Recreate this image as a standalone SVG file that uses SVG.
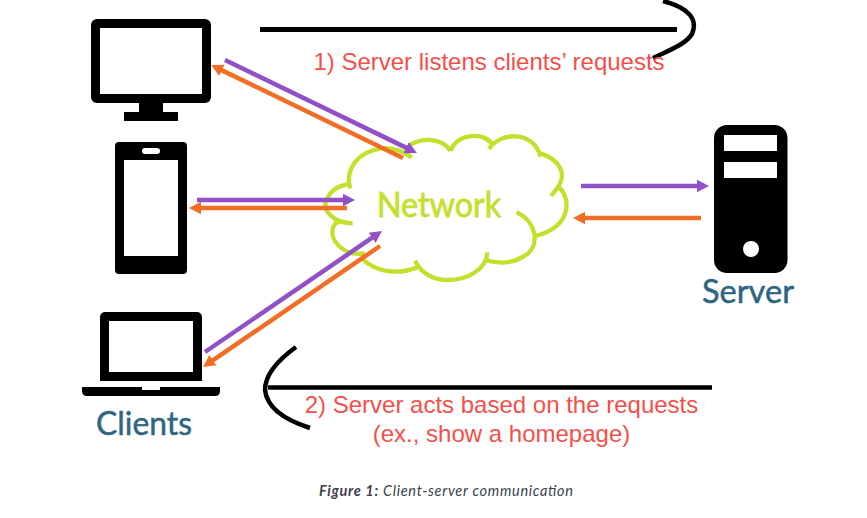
<svg xmlns="http://www.w3.org/2000/svg" width="867" height="518" viewBox="0 0 867 518">
<style>
.p{stroke:#9150C8;stroke-width:4.500;fill:none}
.o{stroke:#F26E24;stroke-width:4.500;fill:none}
.b{fill:#000}
.w{fill:#fff}
.k{stroke:#000;fill:none}
.lab{font-family:"Lato","Liberation Sans",sans-serif;fill:#2E6580;font-size:33px;stroke:#2E6580;stroke-width:.5}
.red{font-family:"Liberation Sans",Arial,sans-serif;fill:#F2504B;font-size:24px;text-anchor:middle}
</style>
<defs>
<marker id="ap" markerUnits="userSpaceOnUse" markerWidth="14" markerHeight="14" refX="1" refY="7" orient="auto"><path d="M0 .8L12 7L0 13.200z" fill="#9150C8"/></marker>
<marker id="ao" markerUnits="userSpaceOnUse" markerWidth="14" markerHeight="14" refX="1" refY="7" orient="auto"><path d="M0 .8L12 7L0 13.200z" fill="#F26E24"/></marker>
</defs>
<rect width="867" height="518" fill="#fff"/>
<g id="desktop">
<rect class="b" x="91" y="19" width="120" height="84" rx="6"/>
<rect class="w" x="100" y="28" width="102" height="66"/>
<rect class="b" x="139" y="103" width="24" height="10"/>
<rect class="b" x="124" y="112" width="54" height="9"/>
</g>
<g id="phone">
<rect class="b" x="115" y="142" width="72" height="132" rx="4"/>
<rect class="w" x="124" y="160" width="54" height="96"/>
<rect class="w" x="142" y="148" width="18" height="6" rx="3"/>
</g>
<g id="laptop">
<rect class="b" x="100" y="312" width="102" height="69" rx="5"/>
<rect class="b" x="100" y="370" width="102" height="11"/>
<rect class="w" x="109" y="321" width="84" height="51"/>
<path class="b" d="M82 387H142V390H160V387H220V391Q220 396 215 396H87Q82 396 82 391Z"/>
<text class="lab" x="96" y="435" textLength="96" lengthAdjust="spacingAndGlyphs">Clients</text>
</g>
<g id="cloud">
<g transform="translate(310 110) scale(.33333)" fill="none" stroke="#C3E02D" stroke-width="13">
<path d="M120 235C105 180 140 125 215 115C250 112 285 125 305 143"/>
<path d="M300 105C340 80 395 85 422 122"/>
<path d="M422 122C440 70 520 65 545 100"/>
<path d="M537 117C570 65 670 60 692 140"/>
<path d="M692 130C750 150 770 190 745 230L723 258"/>
<path d="M745 230C785 265 785 350 678 378"/>
<path d="M620 307C680 335 695 410 640 440C600 465 560 460 525 450"/>
<path d="M532 427C530 480 470 510 415 510C370 510 335 490 315 452"/>
<path d="M325 470C270 495 200 490 155 445"/>
<path d="M165 430C100 440 55 390 70 350C75 340 85 335 92 335"/>
<path d="M128 340C70 340 35 300 50 270C60 240 90 225 120 222"/>
</g>
<text x="377" y="217" font-family="Lato,'Liberation Sans',sans-serif" font-size="35" fill="#C3E02D" stroke="#C3E02D" stroke-width=".8" textLength="124" lengthAdjust="spacingAndGlyphs">Network</text>
</g>
<g id="server">
<rect class="b" x="714" y="125" width="73.500" height="148" rx="13"/>
<rect class="w" x="724" y="135" width="53" height="16"/>
<rect class="w" x="724" y="162" width="53" height="16"/>
<circle class="w" cx="751" cy="249" r="8"/>
<text class="lab" x="702" y="303" textLength="92" lengthAdjust="spacingAndGlyphs">Server</text>
</g>
<g id="connectors">
<path class="p" d="M225 60L407 148.100" marker-end="url(#ap)"/>
<path class="o" d="M403 158L221 69.900" marker-end="url(#ao)"/>
<path class="p" d="M197 200H344" marker-end="url(#ap)"/>
<path class="o" d="M347 208H200" marker-end="url(#ao)"/>
<path class="p" d="M205 352L372.900 237.200" marker-end="url(#ap)"/>
<path class="o" d="M380 246L212.100 360.800" marker-end="url(#ao)"/>
<path class="p" d="M581 186H698" marker-end="url(#ap)"/>
<path class="o" d="M701 218H584" marker-end="url(#ao)"/>
<path class="k" stroke-width="5" d="M260 29.500H677"/>
<path class="k" stroke-width="4.500" d="M663 1C690 8 698 20 692 34C686 44 670 50 653 58"/>
<path class="k" stroke-width="4.500" d="M268 387.500H712"/>
<path class="k" stroke-width="4.500" d="M296 347C278 360 265 375 265 390C267 408 285 420 310 428"/>
</g>
<g id="labels">
<text class="red" x="489" y="70">1) Server listens clients’ requests</text>
<text class="red" x="501.500" y="413">2) Server acts based on the requests</text>
<text class="red" x="501.500" y="442">(ex., show a homepage)</text>
<text x="319" y="496" font-family="Lato,'Liberation Sans',sans-serif" font-size="14.500" font-style="italic" fill="#39424E" textLength="254"><tspan font-weight="700">Figure 1:</tspan> Client-server communication</text>
</g>
</svg>
